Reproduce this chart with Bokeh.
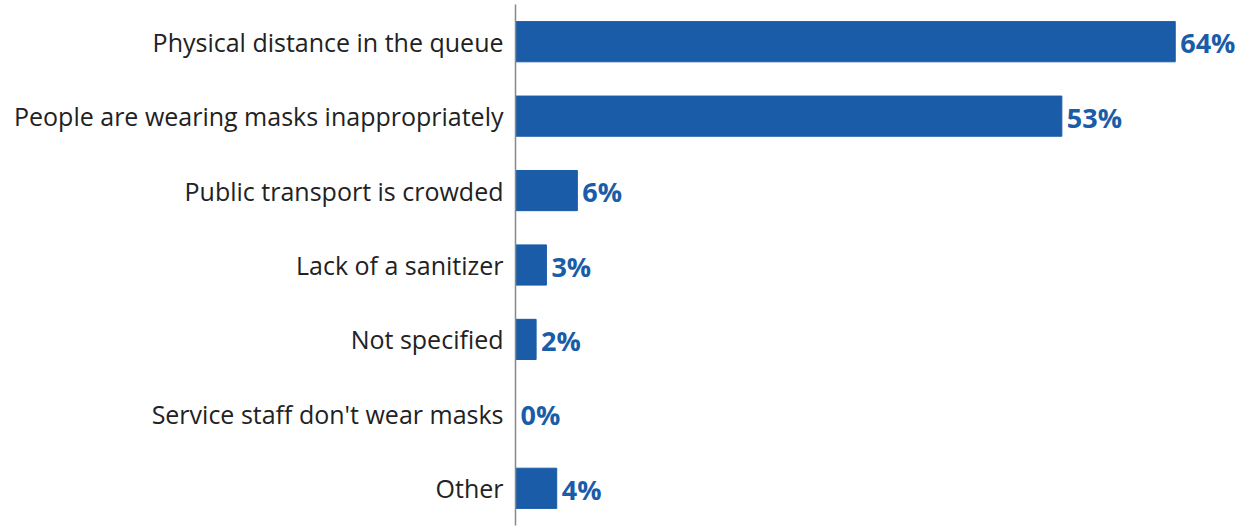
from bokeh.plotting import figure
from bokeh.models import ColumnDataSource, Range1d, FactorRange, LabelSet
from bokeh.core.properties import value
from bokeh.embed import file_html
from bokeh.resources import INLINE

categories = [
    "Physical distance in the queue",
    "People are wearing masks inappropriately",
    "Public transport is crowded",
    "Lack of a sanitizer",
    "Not specified",
    "Service staff don't wear masks",
    "Other",
]
values = [64, 53, 6, 3, 2, 0, 4]
value_labels = [f"{v}%" for v in values]

BLUE = "#1a5ca8"

source = ColumnDataSource(dict(cat=categories, val=values, lab=value_labels))

p = figure(
    width=1250, height=531,
    y_range=FactorRange(*reversed(categories), range_padding=0),
    x_range=Range1d(0, 71.3),
    output_backend="svg", toolbar_location=None,
    min_border_left=515, min_border_right=0, min_border_top=4, min_border_bottom=6,
)

p.hbar(y="cat", right="val", left=0, height=0.54, color=BLUE, source=source)

labels = LabelSet(x="val", y="cat", text="lab", source=source,
                  x_offset=5, y_offset=-1,
                  text_font=value("Open Sans"), text_font_style="bold",
                  text_font_size="27px", text_color=BLUE,
                  text_baseline="middle", text_align="left")
p.add_layout(labels)

p.xaxis.visible = False
p.xgrid.visible = False
p.ygrid.visible = False
p.outline_line_color = None

ya = p.yaxis[0]
ya.major_tick_line_color = None
ya.minor_tick_line_color = None
ya.axis_line_color = "#888888"
ya.axis_line_width = 1.5
ya.major_label_text_font = "Open Sans"
ya.major_label_text_font_size = "25px"
ya.major_label_text_color = "#222222"
ya.major_label_standoff = 6

open("out.html", "w").write(file_html(p, INLINE))
